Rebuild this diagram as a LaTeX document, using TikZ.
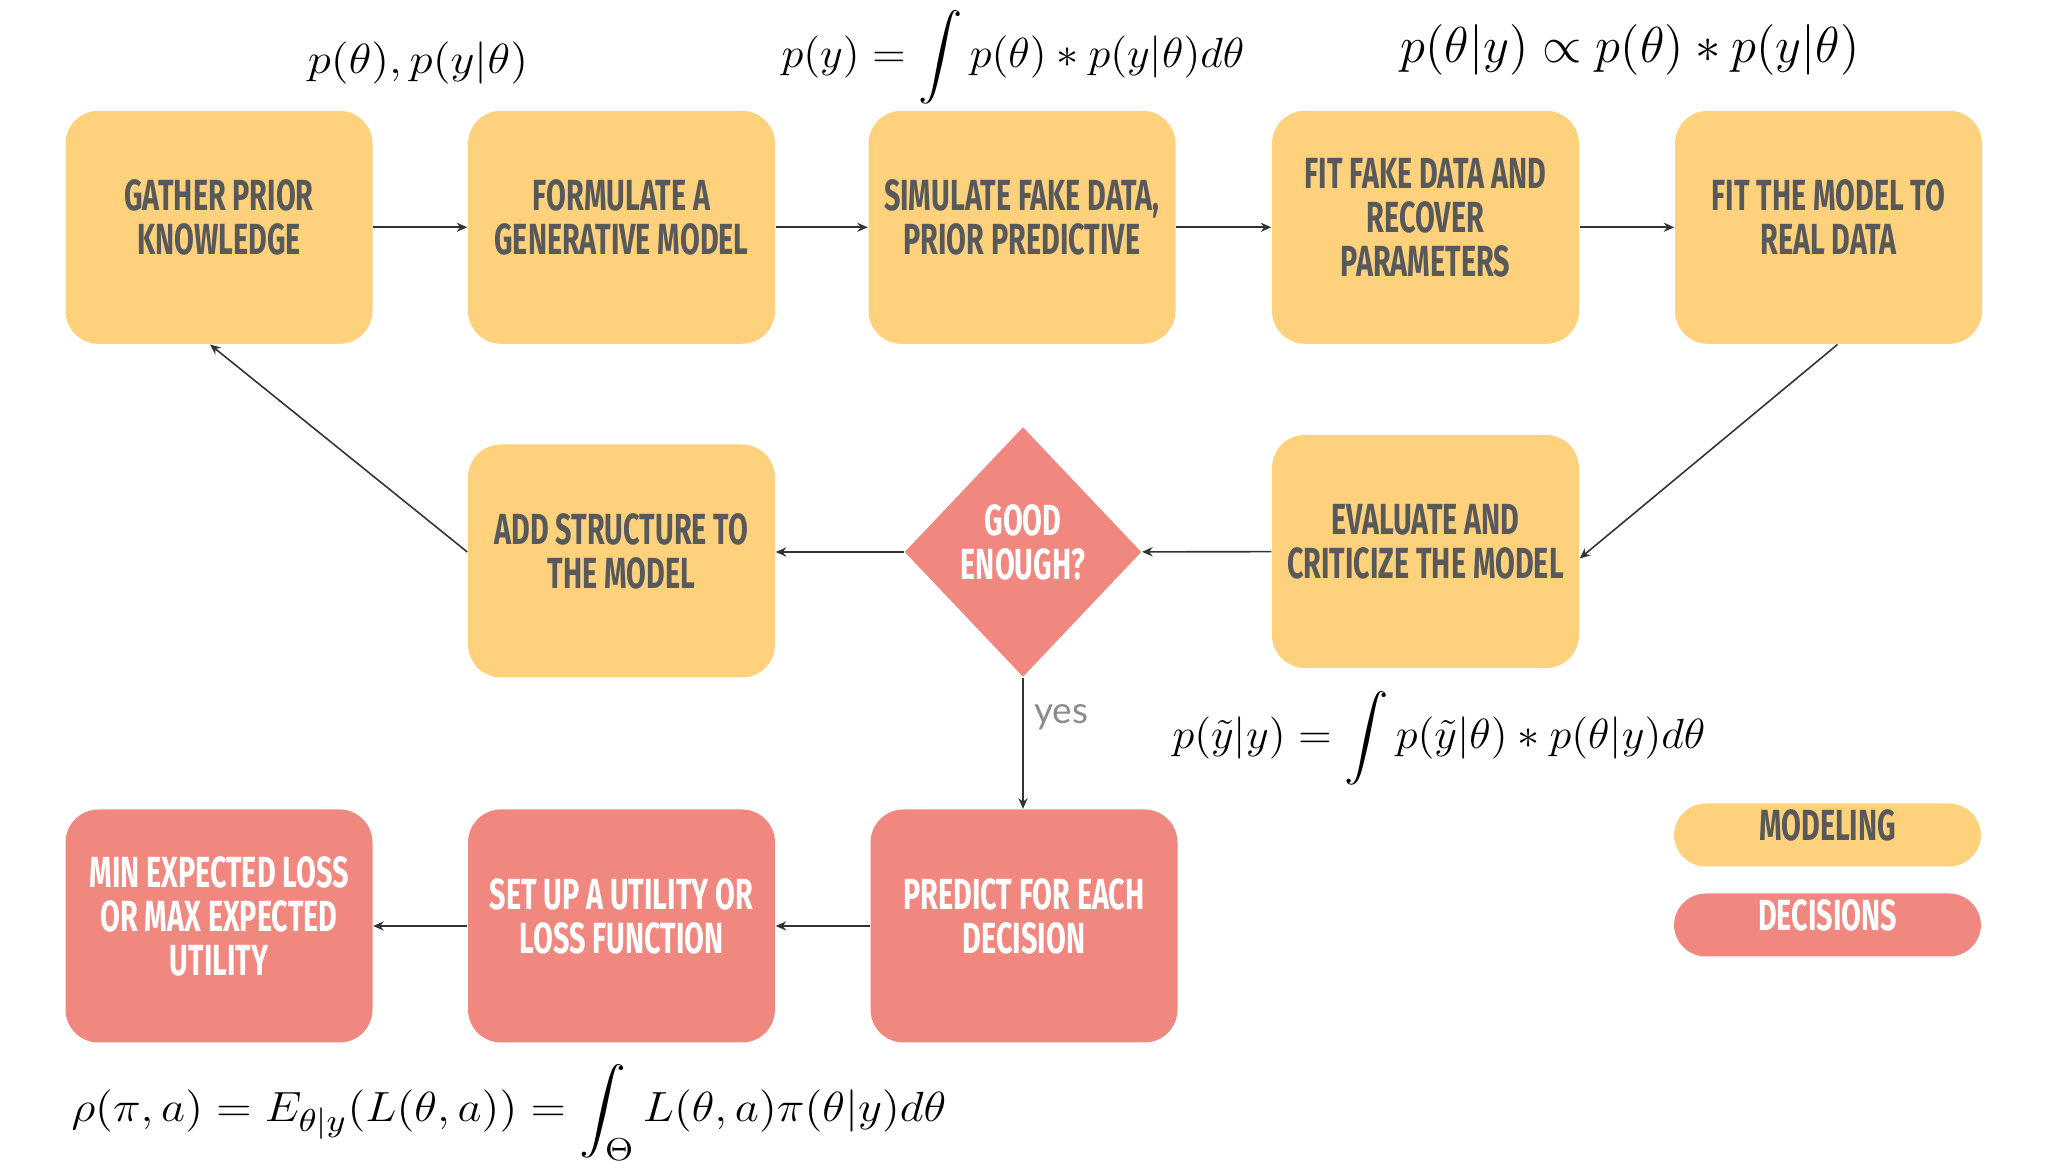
\documentclass[tikz,border=0pt]{standalone}
\usepackage{fontspec}
\usepackage{amsmath}
\usetikzlibrary{shapes.geometric,arrows.meta}
\newfontfamily\boxfont{Fira Sans}[FakeStretch=0.66]
\newfontfamily\yesfont{Lato}
\definecolor{modelcol}{HTML}{FED27C}
\definecolor{decicol}{HTML}{F08880}
\definecolor{textgray}{HTML}{58595B}
\newcommand{\widemath}[2][1.11]{\scalebox{#1}[1]{#2}}

\begin{document}
\begin{tikzpicture}[
		box/.style={rectangle, rounded corners=0.33cm, minimum width=3.07cm, minimum height=2.33cm, inner sep=0pt, align=center, text depth=0.2cm, font=\boxfont\bfseries\fontsize{12.4}{12.5}\selectfont},
		model/.style={box, fill=modelcol, text=textgray},
		decide/.style={box, fill=decicol, text=white},
		goodbox/.style={diamond, fill=decicol, text=white, minimum width=2.37cm, minimum height=2.5cm, inner sep=0pt, align=center, text depth=0.2cm, font=\boxfont\bfseries\fontsize{12.4}{12.5}\selectfont},
		legend/.style={rectangle, rounded corners=0.32cm, minimum width=3.07cm, minimum height=0.63cm, inner sep=0pt, text depth=0.2cm, font=\boxfont\bfseries\fontsize{12.4}{12.5}\selectfont},
		formula/.style={anchor=base, inner sep=0pt, font=\fontsize{#1}{15}\selectfont},
		formula/.default=12.5,
		arr/.style={-{Stealth[length=3pt,width=2.6pt]}, line width=0.45pt, black!80}
	]
		\useasboundingbox (0,0) rectangle (20.48,-11.70);

		% modeling loop
		\node[model] (gather) at (2.19,-2.273) {GATHER PRIOR\\KNOWLEDGE};
		\node[model] (formulate) at (6.215,-2.273) {FORMULATE A\\GENERATIVE MODEL};
		\node[model] (simulate) at (10.22,-2.273) {SIMULATE FAKE DATA,\\PRIOR PREDICTIVE};
		\node[model] (fitfake) at (14.255,-2.273) {FIT FAKE DATA AND\\RECOVER\\PARAMETERS};
		\node[model] (fitreal) at (18.285,-2.273) {FIT THE MODEL TO\\REAL DATA};
		\node[model] (addstruct) at (6.215,-5.61) {ADD STRUCTURE TO\\THE MODEL};
		\node[goodbox] (good) at (10.23,-5.52) {GOOD\\ENOUGH?};
		\node[model] (evaluate) at (14.255,-5.515) {EVALUATE AND\\CRITICIZE THE MODEL};

		% decisions
		\node[decide] (minloss) at (2.19,-9.26) {MIN EXPECTED LOSS\\OR MAX EXPECTED\\UTILITY};
		\node[decide] (setup) at (6.215,-9.26) {SET UP A UTILITY OR\\LOSS FUNCTION};
		\node[decide] (predict) at (10.24,-9.26) {PREDICT FOR EACH\\DECISION};

		% legend
		\node[legend, fill=modelcol, text=textgray] (legmodel) at (18.275,-8.35) {MODELING};
		\node[legend, fill=decicol, text=white] (legdeci) at (18.275,-9.25) {DECISIONS};

		% formulas
		\node[formula] (priorlbl) at (4.18,-0.735) {\widemath{$p(\theta), p(y|\theta)$}};
		\node[formula=13.2] (priorpred) at (10.13,-0.68) {\widemath[1.05]{$\displaystyle p(y) = \int p(\theta) * p(y|\theta) d\theta$}};
		\node[formula=13.5] (posterior) at (16.3,-0.63) {$p(\theta|y) \propto p(\theta) * p(y|\theta)$};
		\node[formula=13.2] (postpred) at (14.39,-7.485) {\widemath[1.05]{$\displaystyle p(\tilde{y}|y) = \int p(\tilde{y}|\theta) * p(\theta|y) d\theta$}};
		\node[formula] (risk) at (5.09,-11.22) {\widemath{$\displaystyle \rho(\pi,a) = E_{\theta|y}(L(\theta,a)) = \int_\Theta L(\theta,a)\pi(\theta|y)d\theta$}};

		\draw[arr] (gather) -- (formulate);
		\draw[arr] (formulate) -- (simulate);
		\draw[arr] (simulate) -- (fitfake);
		\draw[arr] (fitfake) -- (fitreal);
		\draw[arr] ([xshift=0.09cm]fitreal.south) -- ([yshift=-0.07cm]evaluate.east);
		\draw[arr] (evaluate) -- (good);
		\draw[arr] (good) -- (good -| addstruct.east);
		\draw[arr] (addstruct.west |- good) -- ([xshift=-0.09cm]gather.south);
		\draw[arr] (good) -- node[pos=0.3, right, inner sep=3pt, text=black!45, font=\yesfont\fontsize{10.5}{12}\selectfont] (yes) {yes} (good |- predict.north);
		\draw[arr] (predict) -- (setup);
		\draw[arr] (setup) -- (minloss);
	\end{tikzpicture}
\end{document}
